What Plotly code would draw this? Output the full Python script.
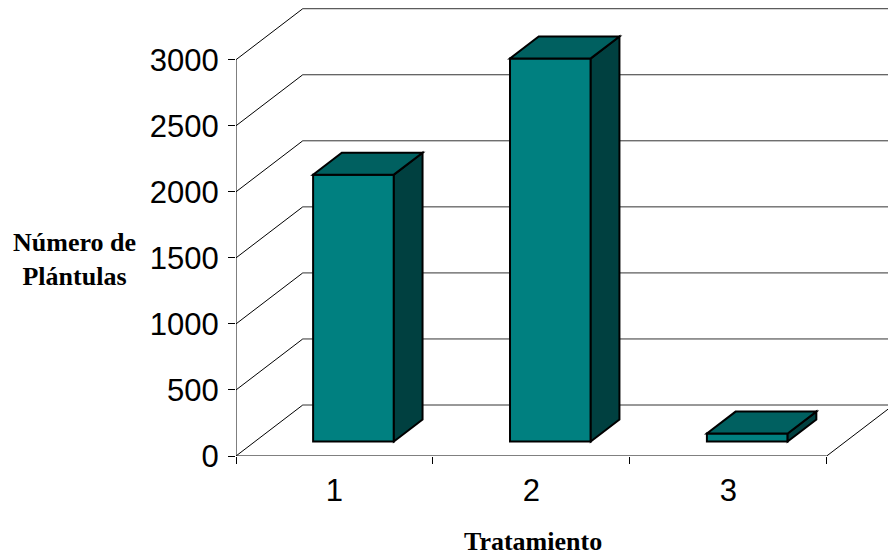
import plotly.graph_objects as go

# Data
categories = [1, 2, 3]
plantulas = [2020, 2900, 60]
y_ticks = [0, 500, 1000, 1500, 2000, 2500, 3000]
x_title = "Tratamiento"
y_title = "Número de<br>Plántulas"

# Oblique 3D projection expressed in axis units:
# a point at depth d (0 = front plane, 1 = back wall) is shifted by d*DX, d*DY
DX = 0.339          # category units
DY = 386.0          # value units
BAR_W = 0.41        # bar width (category units)
F0, F1 = 0.285, 0.715   # bar front / back depth fractions
X0, X1 = 0.5, 3.5   # floor front edge
FRONT = "#008080"
TOP = "#006060"
SIDE = "#004040"


def proj(x, v, d):
    return x + d * DX, v + d * DY


def path(points):
    return "M " + " L ".join(f"{x},{y}" for x, y in points) + " Z"


fig = go.Figure()

shapes = []
# left wall diagonals and back wall gridlines
for v in y_ticks:
    bx, by = proj(X0, v, 1)
    shapes.append(dict(type="line", xref="x", yref="y", x0=X0, y0=v, x1=bx, y1=by,
                       line=dict(color="#000000", width=1), layer="below"))
    ex, ey = proj(X1, v, 1)
    shapes.append(dict(type="line", xref="x", yref="y", x0=bx, y0=by, x1=ex + 0.2, y1=ey,
                       line=dict(color="#333333", width=1), layer="below"))
# floor edges
rx, ry = proj(X1, 0, 1)
shapes.append(dict(type="line", xref="x", yref="y", x0=X1, y0=0, x1=rx, y1=ry,
                   line=dict(color="#000000", width=1), layer="below"))
shapes.append(dict(type="line", xref="x", yref="y", x0=X0, y0=0, x1=X1, y1=0,
                   line=dict(color="#000000", width=1), layer="below"))
# value axis line
shapes.append(dict(type="line", xref="x", yref="y", x0=X0, y0=0, x1=X0, y1=y_ticks[-1],
                   line=dict(color="#000000", width=1), layer="below"))

# front faces of the columns
fig.add_trace(go.Bar(
    x=[c + F0 * DX for c in categories],
    y=plantulas,
    base=[F0 * DY] * len(categories),
    width=BAR_W,
    marker=dict(color=FRONT, line=dict(color="#000000", width=2)),
    hovertemplate="Tratamiento %{customdata}: %{y}<extra></extra>",
    customdata=categories,
    showlegend=False,
))

# top and side faces of the columns
for c, v in zip(categories, plantulas):
    xl, xr = c - BAR_W / 2, c + BAR_W / 2
    top = [proj(xl, v, F0), proj(xr, v, F0), proj(xr, v, F1), proj(xl, v, F1)]
    side = [proj(xr, 0, F0), proj(xr, 0, F1), proj(xr, v, F1), proj(xr, v, F0)]
    for pts, col in ((side, SIDE), (top, TOP)):
        shapes.append(dict(type="path", xref="x", yref="y", path=path(pts),
                           fillcolor=col, line=dict(color="#000000", width=2),
                           layer="above"))

fig.update_layout(
    width=888, height=555,
    margin=dict(l=236, r=0, t=8, b=99),
    paper_bgcolor="white", plot_bgcolor="white",
    shapes=shapes,
    showlegend=False,
    xaxis=dict(
        range=[X0, X0 + 652 / 196.9],
        tickmode="array", tickvals=categories, ticktext=[str(c) for c in categories],
        ticks="", showgrid=False, zeroline=False, showline=False,
        tickfont=dict(family="Liberation Sans, Arial", size=31, color="#000000"),
        ticklabelstandoff=13,
        minor=dict(tickmode="array", tickvals=[0.5, 1.5, 2.5, 3.5], ticks="outside",
                   ticklen=7, tickcolor="#000000", tickwidth=1, showgrid=False),
        fixedrange=True,
    ),
    yaxis=dict(
        range=[0, 448 / 132.1 * 1000],
        tickmode="array", tickvals=y_ticks, ticktext=[str(t) for t in y_ticks],
        ticks="outside", ticklen=7, tickcolor="#000000", tickwidth=1,
        showgrid=False, zeroline=False, showline=False,
        tickfont=dict(family="Liberation Sans, Arial", size=31, color="#000000"),
        ticklabelstandoff=3,
        fixedrange=True,
    ),
    annotations=[
        dict(text=f"<b>{y_title}</b>", xref="paper", yref="paper",
             x=-236 / 652 + 74 / 652, y=(455 - 258) / 448, xanchor="center", yanchor="middle",
             showarrow=False, align="center",
             font=dict(family="Liberation Serif, Times New Roman", size=26, color="#000000")),
        dict(text=f"<b>{x_title}</b>", xref="paper", yref="paper",
             x=(533 - 236) / 652, y=(455 - 540) / 448, xanchor="center", yanchor="middle",
             showarrow=False,
             font=dict(family="Liberation Serif, Times New Roman", size=26, color="#000000")),
    ],
)

fig.write_html("out.html")
